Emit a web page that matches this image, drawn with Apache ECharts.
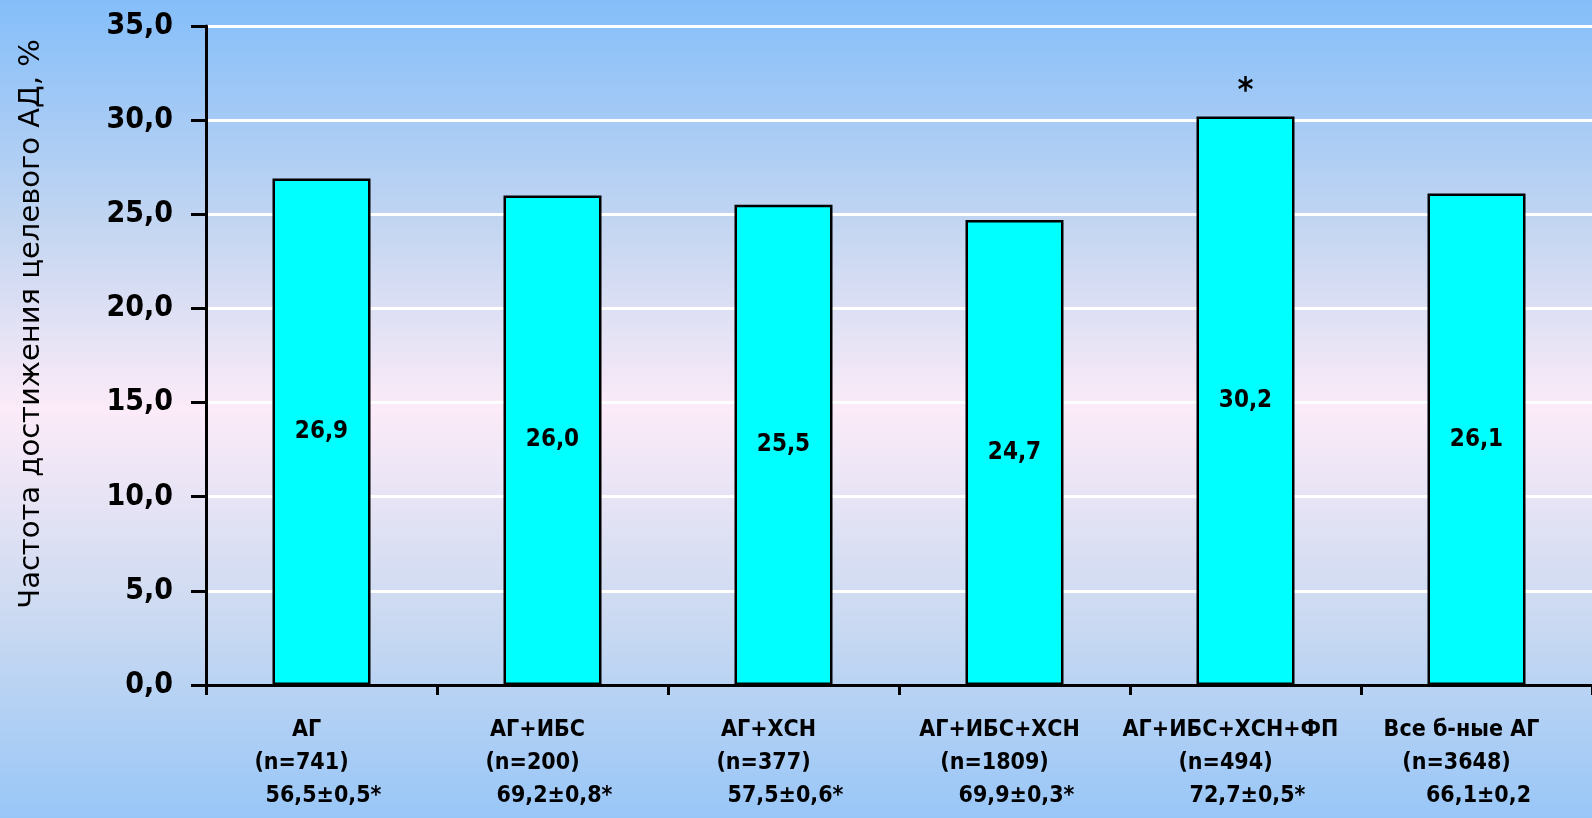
<!DOCTYPE html>
<html>
<head>
<meta charset="utf-8">
<script src="https://cdn.jsdelivr.net/npm/echarts@6/dist/echarts.min.js"></script>
<style>
  html, body { margin: 0; padding: 0; }
  #chart { width: 1592px; height: 818px; }
</style>
</head>
<body>
<div id="chart"></div>
<script>
// Patient groups, group sizes and mean age per group
const groups = ['АГ', 'АГ+ИБС', 'АГ+ХСН', 'АГ+ИБС+ХСН', 'АГ+ИБС+ХСН+ФП', 'Все б-ные АГ'];
const sampleSizes = ['n=741', 'n=200', 'n=377', 'n=1809', 'n=494', 'n=3648'];
const ageStats = ['56,5±0,5*', '69,2±0,8*', '57,5±0,6*', '69,9±0,3*', '72,7±0,5*', '66,1±0,2'];
// Share of patients reaching target blood pressure, %
const targetRate = [26.9, 26.0, 25.5, 24.7, 30.2, 26.1];
// Groups marked as significantly different
const significant = [false, false, false, false, true, false];

const yTitle = 'Частота достижения целевого АД, %';
const condensed = "'DejaVu Sans Condensed', 'DejaVu Sans', sans-serif";
const comma = v => v.toFixed(1).replace('.', ',');

const categories = groups.map((g, i) => g + '\n(' + sampleSizes[i] + ')\n' + ageStats[i]);

const chart = echarts.init(document.getElementById('chart'), null, { renderer: 'canvas' });

chart.setOption({
  backgroundColor: {
    type: 'linear', x: 0, y: 0, x2: 0, y2: 1,
    colorStops: [
      { offset: 0, color: '#84BEFA' },
      { offset: 0.28, color: '#C4D6F1' },
      { offset: 0.5, color: '#FCEBF8' },
      { offset: 0.75, color: '#CCDAF1' },
      { offset: 1, color: '#98C6F7' }
    ]
  },
  animation: false,
  grid: { left: 206, top: 26, bottom: 133, width: 1401, containLabel: false },
  graphic: [{
    type: 'text',
    x: 31, y: 324,
    rotation: Math.PI / 2,
    style: {
      text: yTitle,
      font: "29px 'DejaVu Sans', sans-serif",
      fill: '#000',
      textAlign: 'center',
      textVerticalAlign: 'middle'
    }
  }],
  xAxis: {
    type: 'category',
    data: categories,
    axisLine: { lineStyle: { color: '#000', width: 3 } },
    axisTick: { show: true, length: 10, lineStyle: { color: '#000', width: 3 } },
    axisLabel: {
      margin: 29,
      interval: 0,
      formatter: function (value) {
        const parts = value.split('\n');
        return '{a|' + parts[0] + '}\n{b|' + parts[1] + '}\n{c|' + parts[2] + '}';
      },
      rich: {
        a: { fontFamily: condensed, fontWeight: 'bold', fontSize: 23, color: '#000', lineHeight: 33, padding: [0, 30, 0, 0] },
        b: { fontFamily: condensed, fontWeight: 'bold', fontSize: 23, color: '#000', lineHeight: 33, padding: [0, 40, 0, 0] },
        c: { fontFamily: condensed, fontWeight: 'bold', fontSize: 23, color: '#000', lineHeight: 33, padding: [0, 0, 0, 4] }
      }
    }
  },
  yAxis: {
    type: 'value',
    min: 0, max: 35, interval: 5,
    axisLine: { show: true, lineStyle: { color: '#000', width: 3 } },
    axisTick: { show: true, length: 15, lineStyle: { color: '#000', width: 3 } },
    splitLine: { show: true, lineStyle: { color: '#FFFFFF', width: 3 } },
    axisLabel: {
      margin: 33,
      formatter: comma,
      fontFamily: condensed,
      fontWeight: 'bold',
      fontSize: 30,
      color: '#000'
    }
  },
  series: [{
    type: 'bar',
    data: targetRate,
    barWidth: 98,
    itemStyle: { color: '#00FFFF', borderColor: '#000', borderWidth: 2.5 },
    label: {
      show: true,
      position: 'inside',
      formatter: p => comma(p.value),
      fontFamily: condensed,
      fontWeight: 'bold',
      fontSize: 24,
      color: '#000'
    },
    markPoint: {
      symbol: 'circle',
      symbolSize: 0,
      data: targetRate
        .map((v, i) => ({ coord: [i, v] }))
        .filter((d, i) => significant[i]),
      label: {
        show: true,
        formatter: '*',
        offset: [0, -24],
        fontFamily: condensed,
        fontWeight: 'bold',
        fontSize: 34,
        color: '#000'
      }
    }
  }]
});
</script>
</body>
</html>
